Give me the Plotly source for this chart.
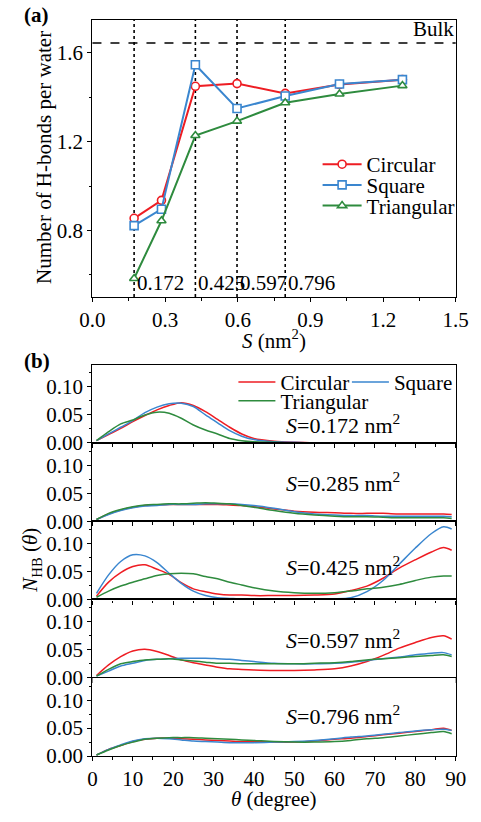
import plotly.graph_objects as go

FONT = "Liberation Serif"
W, H = 481, 822

RED = "#EE1D23"
BLUE = "#3A86CF"
GREEN = "#2E8B3E"

# ---- (a) H-bonds per water molecule versus pore area S ----
area = [0.172, 0.285, 0.425, 0.597, 0.796, 1.02, 1.28]
hb_circular = [0.855, 0.936, 1.450, 1.462, 1.418, 1.458, 1.480]
hb_square = [0.822, 0.896, 1.547, 1.350, 1.406, 1.460, 1.480]
hb_triangular = [0.584, 0.844, 1.228, 1.293, 1.376, 1.415, 1.453]
bulk_hb = 1.645
marked_areas = [0.172, 0.425, 0.597, 0.796]
marked_labels = ["0.172", "0.425", "0.597", "0.796"]

# ---- (b) angular distribution N_HB(theta) for each pore area ----
theta = [1, 4, 7, 10, 13, 16, 19, 22, 25, 28, 31, 34, 37, 40, 45, 50, 55,
         60, 64, 68, 72, 76, 80, 84, 87, 89]

circ_0172 = [0.004, 0.015, 0.026, 0.038, 0.049, 0.059, 0.067, 0.072, 0.067, 0.056,
             0.042, 0.028, 0.016, 0.008, 0.003, 0.001, 0, 0, 0, 0, 0, 0, 0, 0, 0, 0]
sq_0172 = [0.004, 0.016, 0.028, 0.040, 0.054, 0.064, 0.070, 0.071, 0.065, 0.050,
           0.036, 0.022, 0.012, 0.006, 0.002, 0.001, 0, 0, 0, 0, 0, 0, 0, 0, 0, 0]
tri_0172 = [0.004, 0.020, 0.034, 0.041, 0.050, 0.055, 0.053, 0.044, 0.032, 0.023,
            0.016, 0.008, 0.004, 0.002, 0.001, 0, 0, 0, 0, 0, 0, 0, 0, 0, 0, 0]

circ_0285 = [0.003, 0.013, 0.020, 0.025, 0.028, 0.029, 0.030, 0.030, 0.030, 0.030,
             0.030, 0.029, 0.028, 0.026, 0.022, 0.018, 0.016, 0.015, 0.014, 0.014,
             0.014, 0.013, 0.013, 0.013, 0.013, 0.012]
sq_0285 = [0.003, 0.012, 0.019, 0.024, 0.027, 0.028, 0.030, 0.030, 0.030, 0.031,
           0.031, 0.031, 0.030, 0.028, 0.023, 0.017, 0.013, 0.011, 0.010, 0.010,
           0.009, 0.009, 0.009, 0.009, 0.009, 0.008]
tri_0285 = [0.003, 0.014, 0.021, 0.026, 0.029, 0.030, 0.031, 0.031, 0.032, 0.033,
            0.032, 0.031, 0.028, 0.025, 0.019, 0.014, 0.011, 0.009, 0.008, 0.008,
            0.007, 0.006, 0.006, 0.006, 0.006, 0.005]

circ_0425 = [0.006, 0.031, 0.048, 0.059, 0.062, 0.054, 0.045, 0.030, 0.019, 0.014,
             0.010, 0.008, 0.008, 0.007, 0.007, 0.007, 0.008, 0.010, 0.016, 0.024,
             0.038, 0.056, 0.071, 0.085, 0.093, 0.088]
sq_0425 = [0.011, 0.044, 0.068, 0.080, 0.078, 0.066, 0.047, 0.029, 0.015, 0.007,
           0.003, 0.002, 0.001, 0.001, 0.001, 0.001, 0.001, 0.001, 0.003, 0.014,
           0.034, 0.063, 0.092, 0.118, 0.130, 0.126]
tri_0425 = [0.004, 0.015, 0.024, 0.031, 0.037, 0.043, 0.046, 0.047, 0.046, 0.041,
            0.037, 0.031, 0.026, 0.021, 0.015, 0.012, 0.011, 0.012, 0.015, 0.019,
            0.022, 0.027, 0.034, 0.040, 0.042, 0.042]

circ_0597 = [0.004, 0.023, 0.038, 0.048, 0.051, 0.047, 0.040, 0.032, 0.027, 0.023,
             0.019, 0.016, 0.015, 0.014, 0.013, 0.013, 0.014, 0.016, 0.021, 0.029,
             0.040, 0.053, 0.063, 0.072, 0.075, 0.069]
sq_0597 = [0.003, 0.012, 0.021, 0.026, 0.031, 0.033, 0.034, 0.035, 0.035, 0.035,
           0.034, 0.033, 0.031, 0.029, 0.026, 0.025, 0.025, 0.026, 0.028, 0.031,
           0.034, 0.037, 0.041, 0.044, 0.045, 0.041]
tri_0597 = [0.003, 0.015, 0.025, 0.029, 0.032, 0.033, 0.034, 0.032, 0.030, 0.028,
            0.026, 0.026, 0.025, 0.025, 0.025, 0.025, 0.026, 0.027, 0.029, 0.032,
            0.034, 0.036, 0.038, 0.040, 0.041, 0.038]

circ_0796 = [0.002, 0.012, 0.019, 0.026, 0.030, 0.032, 0.032, 0.031, 0.030, 0.029,
             0.028, 0.027, 0.026, 0.026, 0.025, 0.025, 0.027, 0.030, 0.032, 0.035,
             0.038, 0.041, 0.044, 0.047, 0.050, 0.046]
sq_0796 = [0.002, 0.012, 0.020, 0.027, 0.031, 0.032, 0.031, 0.029, 0.027, 0.026,
           0.025, 0.024, 0.024, 0.024, 0.025, 0.026, 0.028, 0.031, 0.034, 0.036,
           0.039, 0.042, 0.045, 0.047, 0.048, 0.046]
tri_0796 = [0.002, 0.011, 0.019, 0.025, 0.030, 0.032, 0.033, 0.033, 0.033, 0.032,
            0.031, 0.030, 0.029, 0.028, 0.026, 0.025, 0.025, 0.026, 0.028, 0.031,
            0.033, 0.036, 0.039, 0.042, 0.044, 0.040]

panel_labels = ["0.172", "0.285", "0.425", "0.597", "0.796"]
panel_series = [
    (circ_0172, sq_0172, tri_0172),
    (circ_0285, sq_0285, tri_0285),
    (circ_0425, sq_0425, tri_0425),
    (circ_0597, sq_0597, tri_0597),
    (circ_0796, sq_0796, tri_0796),
]
label_heights = [0.034, 0.0695, 0.059, 0.0695, 0.074]

shape_names = ["Circular", "Square", "Triangular"]
shape_colors = [RED, BLUE, GREEN]
shape_symbols = ["circle", "square", "triangle-up"]


def px_x(px):
    return px / W


def px_y(py):
    return 1 - py / H


fig = go.Figure()

# ---------------- panel (a) ----------------
legend_a = ["legend", "legend2", "legend3"]
for name, col, sym, vals, lg in zip(shape_names, shape_colors, shape_symbols,
                                    [hb_circular, hb_square, hb_triangular], legend_a):
    fig.add_trace(go.Scatter(
        x=area, y=vals, name=name, mode="lines+markers", xaxis="x", yaxis="y",
        line=dict(color=col, width=2),
        marker=dict(symbol=sym, size=8, color="white", line=dict(color=col, width=1.6)),
        legend=lg, showlegend=True,
    ))

for a in marked_areas:
    fig.add_shape(type="line", xref="x", yref="y domain", x0=a, x1=a, y0=0, y1=1,
                  line=dict(color="black", width=1.6, dash="dot"), layer="below")
fig.add_shape(type="line", xref="x domain", yref="y", x0=0, x1=1, y0=bulk_hb, y1=bulk_hb,
              line=dict(color="black", width=1.4, dash="dash"), layer="below")

annotations = []
for a, lab in zip(marked_areas, marked_labels):
    annotations.append(dict(x=a, y=0.565, xref="x", yref="y", text=lab, showarrow=False,
                            xanchor="left", yanchor="middle", xshift=1,
                            font=dict(family=FONT, size=21, color="black")))
annotations.append(dict(x=1, y=bulk_hb, xref="x domain", yref="y", text="Bulk",
                        showarrow=False, xanchor="right", yanchor="bottom", xshift=0,
                        font=dict(family=FONT, size=21, color="black")))

# ---------------- panel (b) ----------------
top_b, bot_b = 370.0, 767.3
h_b = (bot_b - top_b) / 5
legend_b = ["legend4", "legend5", "legend6"]
for i, (series, lab) in enumerate(zip(panel_series, panel_labels)):
    k = i + 2
    for j, (name, col, vals) in enumerate(zip(shape_names, shape_colors, series)):
        fig.add_trace(go.Scatter(
            x=theta, y=vals, name=name, mode="lines", xaxis=f"x{k}", yaxis=f"y{k}",
            line=dict(color=col, width=1.5, shape="spline", smoothing=0.8),
            showlegend=(i == 0), legend=legend_b[j],
        ))
    annotations.append(dict(x=47.5, y=label_heights[i], xref=f"x{k}", yref=f"y{k}",
                            text=f"<i>S</i>=" + lab + " nm<sup>2</sup>", showarrow=False,
                            xanchor="left", yanchor="middle",
                            font=dict(family=FONT, size=22, color="black")))

axis_common = dict(showline=True, linecolor="black", linewidth=1.3, mirror=True,
                   ticks="outside", ticklen=4, tickwidth=1.2, tickcolor="black",
                   showgrid=False, zeroline=False,
                   tickfont=dict(family=FONT, size=21, color="black"))

layout = dict(
    width=W, height=H, margin=dict(l=0, r=0, t=0, b=0),
    paper_bgcolor="white", plot_bgcolor="white", showlegend=True,
    font=dict(family=FONT, size=21, color="black"),
    xaxis=dict(domain=[px_x(84), px_x(468)], anchor="y", range=[0, 1.5], dtick=0.3,
               tickformat=".1f",
               minor=dict(dtick=0.15, ticks="outside", ticklen=2.5, tickcolor="black"),
               **axis_common),
    yaxis=dict(domain=[px_y(301.5), px_y(20)], anchor="x", range=[0.5, 1.75],
               tickvals=[0.8, 1.2, 1.6], ticktext=["0.8", "1.2", "1.6"],
               minor=dict(tickvals=[0.6, 1.0, 1.4], ticks="outside", ticklen=2.5,
                          tickcolor="black"),
               **axis_common),
)

for i in range(5):
    k = i + 2
    top = top_b + i * h_b
    bot = top + h_b
    layout[f"xaxis{k}"] = dict(domain=[px_x(84), px_x(468)], anchor=f"y{k}", range=[0, 90],
                               dtick=10, showticklabels=(i == 4),
                               minor=dict(dtick=5, ticks="outside", ticklen=2.5,
                                          tickcolor="black"),
                               **axis_common)
    layout[f"yaxis{k}"] = dict(domain=[px_y(bot), px_y(top)], anchor=f"x{k}",
                               range=[0, 0.14], dtick=0.05, tickformat=".2f",
                               minor=dict(dtick=0.025, ticks="outside", ticklen=2.5,
                                          tickcolor="black"),
                               **axis_common)

legend_font = dict(family=FONT, size=21, color="black")
# one legend per entry: (left x px, centre y px, symbol width px)
leg_pos = {
    "legend": (322, 167, 39), "legend2": (322, 188, 39), "legend3": (322, 209, 39),
    "legend4": (233, 388, 37), "legend5": (353, 388, 37), "legend6": (233, 407, 37),
}
for lg, (lx, ly, iw) in leg_pos.items():
    layout[lg] = dict(x=px_x(lx), y=px_y(ly), xanchor="left", yanchor="middle",
                      bgcolor="rgba(0,0,0,0)", borderwidth=0, font=legend_font,
                      itemwidth=iw, tracegroupgap=0, visible=True)

# panel tags and axis titles
annotations += [
    dict(x=px_x(9), y=px_y(15), xref="paper", yref="paper", text="<b>(a)</b>",
         showarrow=False, xanchor="left", yanchor="middle",
         font=dict(family=FONT, size=21, color="black")),
    dict(x=px_x(9), y=px_y(366), xref="paper", yref="paper", text="<b>(b)</b>",
         showarrow=False, xanchor="left", yanchor="middle",
         font=dict(family=FONT, size=21, color="black")),
    dict(x=px_x(32), y=px_y(160), xref="paper", yref="paper",
         text="Number of H-bonds per water", textangle=-90, showarrow=False,
         xanchor="center", yanchor="middle", font=dict(family=FONT, size=21, color="black")),
    dict(x=px_x(276), y=px_y(345), xref="paper", yref="paper",
         text="<i>S</i> (nm<sup>2</sup>)", showarrow=False,
         xanchor="center", yanchor="middle", font=dict(family=FONT, size=21, color="black")),
    dict(x=px_x(19), y=px_y(568), xref="paper", yref="paper",
         text="<i>N</i><sub>HB</sub> (<i>θ</i>)", textangle=-90, showarrow=False,
         xanchor="center", yanchor="middle", font=dict(family=FONT, size=21, color="black")),
    dict(x=px_x(276), y=px_y(811), xref="paper", yref="paper",
         text="<i>θ</i> (degree)", showarrow=False,
         xanchor="center", yanchor="middle", font=dict(family=FONT, size=21, color="black")),
]
layout["annotations"] = annotations

fig.update_layout(**layout)
fig.write_html("out.html")
